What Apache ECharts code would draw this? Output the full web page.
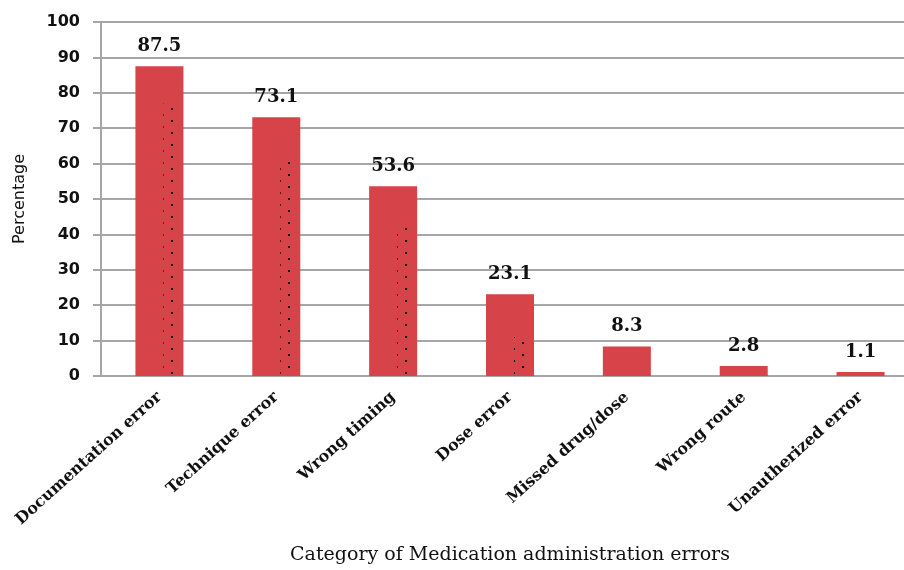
<!DOCTYPE html>
<html>
<head>
<meta charset="utf-8">
<script src="https://cdn.jsdelivr.net/npm/echarts@6/dist/echarts.min.js"></script>
<style>html,body{margin:0;padding:0;background:#fff;overflow:hidden}#c{width:919px;height:570px}</style>
</head>
<body>
<div id="c"></div>
<script>
var categories = ['Documentation error','Technique error','Wrong timing','Dose error','Missed drug/dose','Wrong route','Unautherized error'];
var percentages = [87.5, 73.1, 53.6, 23.1, 8.3, 2.8, 1.1];
var dottedBand = [77, 61, 42, 11, null, null, null];
var yTicks = {min: 0, max: 100, interval: 10};

var chart = echarts.init(document.getElementById('c'));
var gridColor = '#a6a6a6';
chart.setOption({
  animation: false,
  backgroundColor: '#fff',
  grid: {left: 101, top: 22, bottom: 194, right: 0},
  xAxis: {
    type: 'category',
    data: categories,
    name: 'Category of Medication administration errors',
    nameLocation: 'middle',
    nameGap: 170,
    nameTextStyle: {fontFamily: 'DejaVu Serif', fontSize: 19, color: '#111'},
    axisLine: {show: true, lineStyle: {color: gridColor, width: 2}},
    axisTick: {show: false},
    axisLabel: {rotate: 42, margin: 19, interval: 0, fontFamily: 'DejaVu Serif', fontWeight: 'bold', fontSize: 16, color: '#111'}
  },
  yAxis: {
    type: 'value',
    min: yTicks.min, max: yTicks.max, interval: yTicks.interval,
    name: 'Percentage',
    nameLocation: 'middle',
    nameGap: 73,
    nameTextStyle: {fontFamily: 'DejaVu Sans', fontSize: 16, color: '#111'},
    axisLine: {show: true, lineStyle: {color: gridColor, width: 2}},
    axisTick: {show: true, length: 8, lineStyle: {color: gridColor, width: 2}},
    axisLabel: {margin: 21, fontFamily: 'DejaVu Sans', fontWeight: 'bold', fontSize: 16, color: '#111'},
    splitLine: {show: true, lineStyle: {color: gridColor, width: 2}}
  },
  series: [
    {
      type: 'bar',
      data: percentages,
      barWidth: 48,
      barGap: '-41.667%',
      itemStyle: {color: '#d64348'},
      label: {show: true, position: 'top', distance: 11, fontFamily: 'DejaVu Serif', fontWeight: 'bold', fontSize: 18, color: '#111'}
    },
    {
      type: 'bar',
      data: dottedBand,
      barWidth: 15,
      barGap: '-41.667%',
      silent: true,
      itemStyle: {
        color: 'rgba(0,0,0,0)',
        decal: {symbol: 'rect', symbolSize: 1, color: '#1a0808', dashArrayX: [[2, 16], [0, 9, 2, 7]], dashArrayY: [2, 4], rotation: 0}
      }
    },
    {
      type: 'bar',
      data: categories.map(function () { return null; }),
      barWidth: 11.25,
      barGap: '-41.667%',
      silent: true
    }
  ]
});
</script>
</body>
</html>
